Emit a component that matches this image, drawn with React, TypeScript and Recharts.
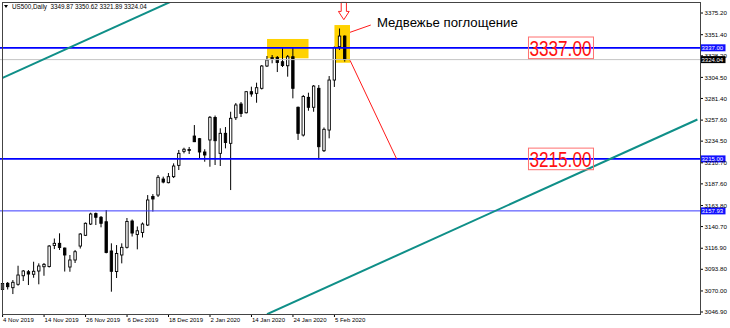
import React from 'react';
import {
  ComposedChart,
  Bar,
  XAxis,
  YAxis,
  ReferenceLine,
  ReferenceArea,
  ReferenceDot,
} from 'recharts';

const FONT = '"Liberation Sans", Arial, sans-serif';

// US500 daily bars, 4 Nov 2019 – 7 Feb 2020
const opens = [
  3071.6, 3078.4, 3073.6, 3077.3, 3086.7, 3091.1, 3088.3, 3091.9, 3096.6, 3096.8,
  3119.9, 3122.3, 3117.1, 3096.3, 3104.0, 3119.3, 3131.1, 3143.5, 3155.0, 3150.9,
  3146.0, 3113.9, 3091.3, 3109.5, 3117.9, 3146.8, 3132.0, 3134.2, 3142.4, 3173.7,
  3175.3, 3192.9, 3188.9, 3195.5, 3207.9, 3223.3, 3224.2, 3240.1, 3237.2, 3222.6,
  3235.8, 3260.5, 3221.1, 3243.1, 3232.1, 3260.2, 3275.3, 3265.7, 3288.8, 3287.0,
  3292.5, 3317.0, 3325.2, 3326.5, 3321.7, 3317.3, 3327.2, 3271.7, 3241.2, 3282.6,
  3271.7, 3292.5, 3224.0, 3246.7, 3301.6, 3338.2, 3349.87,
];
const highs = [
  3085.3, 3079.8, 3082.0, 3097.7, 3093.0, 3093.0, 3102.1, 3100.3, 3100.7, 3120.4,
  3127.6, 3133.3, 3117.7, 3109.5, 3115.0, 3133.6, 3145.2, 3155.9, 3156.1, 3152.3,
  3158.9, 3122.3, 3120.4, 3122.3, 3150.1, 3148.5, 3140.8, 3145.2, 3175.3, 3176.4,
  3197.3, 3195.5, 3199.5, 3210.1, 3224.8, 3227.3, 3228.1, 3252.2, 3238.0, 3225.6,
  3262.1, 3262.6, 3248.6, 3250.0, 3266.8, 3276.4, 3277.5, 3289.6, 3294.3, 3298.7,
  3318.1, 3328.0, 3329.1, 3328.0, 3337.3, 3329.1, 3337.3, 3272.5, 3285.2, 3287.7,
  3296.1, 3296.1, 3249.5, 3306.0, 3338.4, 3358.2, 3350.62,
];
const lows = [
  3069.4, 3071.6, 3066.6, 3075.8, 3080.9, 3076.5, 3084.5, 3077.3, 3086.7, 3095.7,
  3116.0, 3115.0, 3091.3, 3091.1, 3100.7, 3116.6, 3130.3, 3142.4, 3142.4, 3139.9,
  3111.3, 3069.2, 3084.2, 3100.3, 3116.6, 3129.8, 3115.7, 3128.7, 3141.3, 3157.2,
  3173.2, 3188.2, 3188.2, 3194.0, 3202.8, 3221.1, 3220.4, 3233.5, 3214.9, 3211.9,
  3206.4, 3208.3, 3207.2, 3226.6, 3180.8, 3257.7, 3261.0, 3264.9, 3283.3, 3276.7,
  3291.2, 3315.9, 3320.0, 3310.4, 3315.9, 3305.3, 3281.5, 3235.8, 3239.6, 3267.9,
  3266.8, 3214.5, 3222.6, 3237.6, 3294.0, 3334.6, 3321.89,
];
const closes = [
  3078.2, 3074.7, 3079.5, 3087.5, 3091.9, 3088.6, 3091.6, 3097.4, 3099.2, 3119.3,
  3122.3, 3117.7, 3109.5, 3104.0, 3113.1, 3132.5, 3144.3, 3154.5, 3150.9, 3144.3,
  3112.2, 3091.6, 3111.1, 3117.9, 3146.3, 3133.6, 3136.1, 3143.5, 3169.9, 3171.0,
  3194.8, 3189.6, 3195.5, 3207.2, 3221.1, 3225.6, 3225.3, 3233.9, 3222.6, 3219.3,
  3260.7, 3235.0, 3243.1, 3233.0, 3259.6, 3274.2, 3264.9, 3288.8, 3286.3, 3293.2,
  3317.0, 3323.6, 3326.3, 3320.9, 3317.6, 3327.2, 3292.5, 3243.1, 3283.5, 3271.7,
  3295.0, 3228.4, 3247.5, 3301.6, 3337.3, 3349.9, 3324.04,
];

// bar slots on the time axis (history plus empty space to the right)
const SLOT_COUNT = 135;
const dateTickIndices = [0, 8, 16, 24, 32, 40, 48, 56, 64];
const dateLabels = [
  '4 Nov 2019', '14 Nov 2019', '26 Nov 2019', '6 Dec 2019', '18 Dec 2019',
  '2 Jan 2020', '14 Jan 2020', '24 Jan 2020', '5 Feb 2020',
];
const priceTicks = [
  3046.9, 3070.0, 3093.8, 3116.9, 3140.7, 3163.8, 3187.6, 3210.7,
  3234.5, 3257.6, 3281.4, 3304.5, 3328.2, 3351.4, 3375.2,
];
const priceDomain = [3044.7, 3387.3];

// horizontal levels
const resistanceLevel = 3337.0;
const supportLevel = 3215.0;
const lowerLevel = 3157.93;
const bidPrice = 3324.04;

// channel and annotation lines (bar index, price)
const upperChannel = [{ i: 0, p: 3304.0 }, { i: 40, p: 3407.1 }];
const lowerChannel = [{ i: 51, p: 3044.5 }, { i: 134, p: 3258.3 }];
const targetLine = [{ i: 67, p: 3323.3 }, { i: 76, p: 3215.0 }];
const calloutLine = [{ i: 67, p: 3354.0 }, { i: 71, p: 3362.0 }];

// highlighted zones
const topZone = { i1: 51, i2: 59, p1: 3325.5, p2: 3346.7 };
const patternZone = { i1: 64, i2: 67, p1: 3320.6, p2: 3362.0 };

// text annotations
const patternTitle = 'Медвежье поглощение';
const titleAnchor = { i: 72, p: 3364.5 };
const arrowAnchor = { i: 66, p: 3377.4 };
const levelBoxIndex = 102;

const symbolHeader = 'US500,Daily  3349.87 3350.62 3321.89 3324.04';

const data = Array.from({ length: SLOT_COUNT }, (_, i) =>
  i < opens.length
    ? { i, o: opens[i], h: highs[i], l: lows[i], c: closes[i], range: [lows[i], highs[i]] }
    : { i, range: null }
);

const Candle = (props: any) => {
  const { x, y, width, height, payload } = props;
  if (!payload || payload.o == null || !Number.isFinite(y) || !Number.isFinite(height)) return null;
  const top = Math.min(y, y + height);
  const bottom = Math.max(y, y + height);
  const span = payload.h - payload.l;
  const py = (v: number) => (span === 0 ? top : top + ((payload.h - v) / span) * (bottom - top));
  const cx = x + width / 2;
  const yO = py(payload.o);
  const yC = py(payload.c);
  const bull = payload.c >= payload.o;
  const bt = Math.min(yO, yC);
  const bh = Math.max(Math.abs(yO - yC), 0.8);
  return (
    <g>
      <line x1={cx} x2={cx} y1={top} y2={bottom} stroke="#000" strokeWidth={1} />
      <rect x={cx - 1.2} y={bt} width={2.4} height={bh} fill={bull ? '#fff' : '#000'} stroke="#000" strokeWidth={0.9} />
    </g>
  );
};

const ZoneRect = (props: any) => {
  const { x, y, width, height, span } = props;
  const band = width / span;
  return <rect x={x + band / 2} y={y} width={width - band} height={height} fill="#ffd200" />;
};

const priceTag = (bg: string, value: number) => (props: any) => {
  const vb = props.viewBox || {};
  const right = vb.x + vb.width;
  const cy = vb.y;
  return (
    <g>
      <rect x={right + 0.5} y={cy - 3.5} width={25} height={7} fill={bg} />
      <text x={right + 1.5} y={cy + 2.3} fontSize={6} fontFamily={FONT} fill="#fff">
        {value.toFixed(2)}
      </text>
    </g>
  );
};

const LevelBox = (props: any) => {
  const { cx, cy, value } = props;
  const left = cx - 3;
  return (
    <g>
      <rect x={left} y={cy - 10.8} width={65} height={21.6} fill="none" stroke="#ff7070" strokeWidth={1} />
      <text
        x={left + 1}
        y={cy + 8.3}
        fontSize={22}
        fontFamily={FONT}
        fill="#ff1010"
        textLength={62}
        lengthAdjust="spacingAndGlyphs"
      >
        {value.toFixed(2)}
      </text>
    </g>
  );
};

const DownArrow = (props: any) => {
  const { cx, cy } = props;
  const ax = cx - 1;
  const d = `M${ax - 2.6} ${cy - 8.6} L${ax + 2.6} ${cy - 8.6} L${ax + 2.6} ${cy + 0.4} L${ax + 5.4} ${cy + 0.4} L${ax} ${cy + 8.7} L${ax - 5.4} ${cy + 0.4} L${ax - 2.6} ${cy + 0.4} Z`;
  return <path d={d} fill="#fff" stroke="#ff2020" strokeWidth={1} />;
};

const TitleText = (props: any) => {
  const { cx, cy } = props;
  return (
    <text x={cx + 1} y={cy + 4.6} fontSize={13.2} fontFamily={FONT} fill="#000">
      {patternTitle}
    </text>
  );
};

const DateTick = (props: any) => {
  const { x, y, payload } = props;
  const k = dateTickIndices.indexOf(payload.value);
  if (k < 0) return null;
  return (
    <text x={x + 0.5} y={y + 4.3} fontSize={6} fontFamily={FONT} fill="#000" textAnchor="start">
      {dateLabels[k]}
    </text>
  );
};

export default function App() {
  return (
    <div style={{ position: 'absolute', left: 0, top: 0, width: 730, height: 328, background: '#fff' }}>
      <ComposedChart
        width={730}
        height={328}
        data={data}
        margin={{ top: 2, right: 0, bottom: 0, left: 0 }}
        barCategoryGap={0}
      >
        <XAxis
          dataKey="i"
          type="category"
          ticks={dateTickIndices}
          interval={0}
          height={14}
          axisLine={false}
          tickLine={{ stroke: '#000' }}
          tickSize={3}
          tickMargin={1}
          tick={<DateTick />}
        />
        <YAxis
          orientation="right"
          type="number"
          domain={priceDomain}
          allowDataOverflow
          ticks={priceTicks}
          interval={0}
          width={30}
          axisLine={false}
          tickLine={{ stroke: '#000' }}
          tickSize={3}
          tickMargin={1.5}
          tickFormatter={(v: number) => v.toFixed(2)}
          tick={{ fontSize: 6.2, fill: '#000', fontFamily: FONT }}
        />

        <ReferenceArea
          x1={topZone.i1}
          x2={topZone.i2}
          y1={topZone.p1}
          y2={topZone.p2}
          ifOverflow="visible"
          shape={(p: any) => <ZoneRect {...p} span={topZone.i2 - topZone.i1 + 1} />}
        />
        <ReferenceArea
          x1={patternZone.i1}
          x2={patternZone.i2}
          y1={patternZone.p1}
          y2={patternZone.p2}
          ifOverflow="visible"
          shape={(p: any) => <ZoneRect {...p} span={patternZone.i2 - patternZone.i1 + 1} />}
        />

        <ReferenceLine y={bidPrice} stroke="#c4c4c4" strokeWidth={1} label={priceTag('#000', bidPrice)} />
        <ReferenceLine y={lowerLevel} stroke="#3a3aff" strokeWidth={1} label={priceTag('#1010ff', lowerLevel)} />

        <Bar dataKey="range" isAnimationActive={false} shape={<Candle />} />

        <ReferenceLine y={resistanceLevel} stroke="#0000ff" strokeWidth={1.8} label={priceTag('#1010ff', resistanceLevel)} />
        <ReferenceLine y={supportLevel} stroke="#0000ff" strokeWidth={1.8} label={priceTag('#1010ff', supportLevel)} />

        <ReferenceLine
          segment={upperChannel.map((pt) => ({ x: pt.i, y: pt.p }))}
          stroke="#0f8f88"
          strokeWidth={2}
          ifOverflow="hidden"
        />
        <ReferenceLine
          segment={lowerChannel.map((pt) => ({ x: pt.i, y: pt.p }))}
          stroke="#0f8f88"
          strokeWidth={2}
          ifOverflow="hidden"
        />
        <ReferenceLine
          segment={targetLine.map((pt) => ({ x: pt.i, y: pt.p }))}
          stroke="#ff1a1a"
          strokeWidth={1}
          ifOverflow="visible"
        />
        <ReferenceLine
          segment={calloutLine.map((pt) => ({ x: pt.i, y: pt.p }))}
          stroke="#ff1a1a"
          strokeWidth={1}
          ifOverflow="visible"
        />

        <ReferenceDot
          x={levelBoxIndex}
          y={resistanceLevel}
          ifOverflow="visible"
          shape={(p: any) => <LevelBox {...p} value={resistanceLevel} />}
        />
        <ReferenceDot
          x={levelBoxIndex}
          y={supportLevel}
          ifOverflow="visible"
          shape={(p: any) => <LevelBox {...p} value={supportLevel} />}
        />
        <ReferenceDot x={arrowAnchor.i} y={arrowAnchor.p} ifOverflow="visible" shape={(p: any) => <DownArrow {...p} />} />
        <ReferenceDot x={titleAnchor.i} y={titleAnchor.p} ifOverflow="visible" shape={(p: any) => <TitleText {...p} />} />
      </ComposedChart>

      {/* chart frame */}
      <div
        style={{
          position: 'absolute',
          left: 2,
          top: 2,
          width: 699,
          height: 313,
          boxSizing: 'border-box',
          border: '1px solid #444',
          pointerEvents: 'none',
        }}
      />
      {/* symbol header */}
      <div
        style={{
          position: 'absolute',
          left: 4,
          top: 3,
          fontFamily: FONT,
          fontSize: 6.3,
          lineHeight: '7px',
          color: '#000',
          whiteSpace: 'pre',
          display: 'flex',
          alignItems: 'center',
        }}
      >
        <span
          style={{
            display: 'inline-block',
            width: 0,
            height: 0,
            borderLeft: '2px solid transparent',
            borderRight: '2px solid transparent',
            borderTop: '3px solid #000',
            marginRight: 4,
          }}
        />
        <span>{symbolHeader}</span>
      </div>
    </div>
  );
}
